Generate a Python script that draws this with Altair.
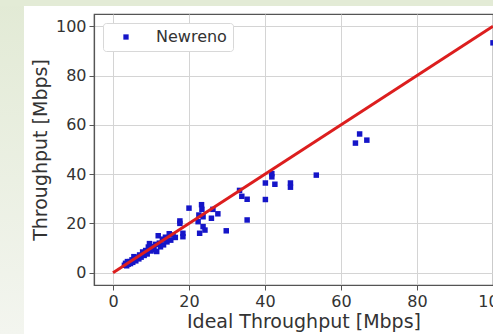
import altair as alt
import pandas as pd

# Measured points (Ideal Throughput, Throughput) in Mbps
ideal = [3.0, 3.3, 3.6, 3.8, 4.0, 4.4, 4.6, 5.0, 5.2, 5.5, 5.7, 6.0, 6.3, 6.8, 7.0, 7.4,
         7.8, 8.2, 8.6, 9.0, 9.3, 9.6, 10.0, 10.4, 10.8, 11.2, 11.5, 11.9, 12.2, 12.5,
         13.0, 13.3, 13.8, 14.2, 14.8, 15.2, 15.8, 16.4,
         17.6, 17.6, 18.4, 18.4, 20.0, 22.4, 22.6, 22.8, 23.3, 23.4, 23.7, 23.7, 24.2,
         25.9, 26.3, 27.6, 29.8, 33.3, 33.9, 35.3, 35.3, 40.1, 40.1, 41.8, 41.8, 42.6,
         46.7, 46.7, 53.5, 63.8, 64.9, 66.8, 100.0]
throughput = [3.0, 3.8, 2.8, 4.5, 3.4, 4.5, 3.7, 5.2, 4.2, 6.5, 5.8, 4.8, 6.2, 5.6, 7.2, 6.3,
              8.4, 7.0, 9.0, 7.6, 10.4, 11.8, 8.8, 10.6, 9.4, 11.5, 8.6, 15.0, 12.0, 10.5,
              13.6, 11.3, 14.4, 12.5, 15.8, 13.2, 15.3, 14.3,
              21.0, 20.0, 16.0, 14.6, 26.2, 20.7, 23.4, 16.0, 27.6, 25.7, 22.7, 18.7, 17.3,
              22.1, 25.7, 23.9, 17.0, 33.4, 31.0, 29.8, 21.4, 36.4, 29.7, 40.2, 38.9, 35.9,
              36.4, 34.7, 39.6, 52.6, 56.3, 53.8, 93.3]
series_name = "Newreno"

# Ideal reference line
line_x = [0, 100]
line_y = [0, 100]

x_ticks = [0, 20, 40, 60, 80, 100]
y_ticks = [0, 20, 40, 60, 80, 100]

pts = pd.DataFrame({"ideal": ideal, "tput": throughput, "series": series_name})
ref = pd.DataFrame({"ideal": line_x, "tput": line_y})
one = pd.DataFrame({"a": [0]})

W, H = 399, 271
xs = alt.Scale(domain=[-5, 100], nice=False, zero=False)
ys = alt.Scale(domain=[-5, 105], nice=False, zero=False)

x_axis = alt.Axis(values=x_ticks, title="Ideal Throughput [Mbps]", titleX=209.5,
                  labelFlush=False, labelOverlap=False)
y_axis = alt.Axis(values=y_ticks, title="Throughput [Mbps]",
                  labelFlush=False, labelOverlap=False)

grad = alt.Gradient(gradient="linear",
                    stops=[alt.GradientStop(color="#e2ead5", offset=0),
                           alt.GradientStop(color="#f3f5ef", offset=1)],
                    x1=0, x2=0, y1=0, y2=1)

bg_left = alt.Chart(one).mark_rect(color=grad, clip=False).encode(
    x=alt.value(-94), x2=alt.value(-70), y=alt.value(-14), y2=alt.value(320))
bg_top = alt.Chart(one).mark_rect(color="#e3ebd6", clip=False).encode(
    x=alt.value(-94), x2=alt.value(W), y=alt.value(-14), y2=alt.value(-8))

points = alt.Chart(pts).mark_square(size=30, opacity=1, clip=True).encode(
    x=alt.X("ideal:Q", scale=xs, axis=x_axis),
    y=alt.Y("tput:Q", scale=ys, axis=y_axis),
    color=alt.Color("series:N", scale=alt.Scale(range=["#1515c8"]),
                    legend=alt.Legend(title=None, orient="none", legendX=9, legendY=9,
                                      padding=6, symbolType="square", symbolSize=28,
                                      symbolOffset=9, labelOffset=22,
                                      labelFont="DejaVu Sans", labelFontSize=16,
                                      labelColor="#333333",
                                      strokeColor="#d8d8d8", fillColor="white",
                                      cornerRadius=3)),
)

line = alt.Chart(ref).mark_line(color="#dc1e1e", strokeWidth=3, clip=True).encode(
    x=alt.X("ideal:Q", scale=xs),
    y=alt.Y("tput:Q", scale=ys),
)

chart = alt.layer(bg_left, bg_top, points, line).properties(
    width=W, height=H,
    autosize=alt.AutoSizeParams(type="none"),
    padding={"left": 94, "top": 14, "right": 0, "bottom": 49},
    background="white",
).configure_view(
    stroke="#555555", strokeWidth=1.2
).configure_axis(
    labelFont="DejaVu Sans", labelFontSize=16, labelColor="#333333",
    titleFont="DejaVu Sans", titleFontSize=19, titleFontWeight="normal",
    titleColor="#333333",
    tickColor="#555555", tickSize=5, tickWidth=1,
    domainColor="#555555", domainWidth=1.2,
    gridColor="#d4d4d4", gridWidth=1,
    labelPadding=3,
).configure_axisX(
    titlePadding=3,
).configure_axisY(
    titlePadding=5,
)

chart.save("out.html", embed_options={"renderer": "svg", "actions": False})
